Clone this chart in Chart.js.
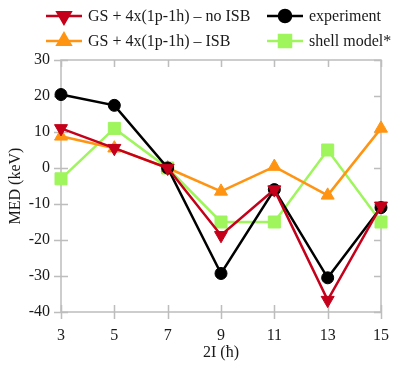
<!DOCTYPE html>
<html>
<head>
<meta charset="utf-8">
<script src="https://cdn.jsdelivr.net/npm/chart.js@4/dist/chart.umd.min.js"></script>
<style>
  html, body { margin: 0; padding: 0; background: #fff; }
  #wrap { width: 403px; height: 365px; }
</style>
</head>
<body>
<div id="wrap"><canvas id="myChart" width="403" height="365"></canvas></div>
<script>
// spins 2I
var spins = ['3', '5', '7', '9', '11', '13', '15'];

// MED values (keV)
var noIsb = [11, 5.5, 0, -18.7, -6, -36.7, -10.5];
var experiment = [20.4, 17.4, 0, -29.3, -6, -30.5, -11];
var withIsb = [8.8, 5.5, 0, -6.5, 0.4, -7.6, 11];
var shellModel = [-3, 11, 0, -15, -15, 5, -15];

var yTicks = [-40, -30, -20, -10, 0, 10, 20, 30];

var RED = '#c4001a', ORANGE = '#ff9412', GREEN = '#9ef55c', BLACK = '#000000';
var AXIS = '#bdbdbd';
var FONT = '"Liberation Serif", "DejaVu Serif", serif';

function makeSet(label, data, color, style, radius, rotation) {
    return {
        label: label,
        data: data,
        borderColor: color,
        backgroundColor: color,
        borderWidth: 2.5,
        pointStyle: style,
        pointRadius: radius,
        pointHoverRadius: radius,
        pointRotation: rotation,
        pointBorderWidth: 1,
        tension: 0,
        clip: false
    };
}

// frame + ticks crossing the axes
var frameTicks = {
    id: 'frameTicks',
    beforeDatasetsDraw: function (chart) {
        var c = chart.ctx, a = chart.chartArea;
        var x = chart.scales.x, y = chart.scales.y;
        c.save();
        c.strokeStyle = AXIS;
        c.lineWidth = 1.5;
        c.strokeRect(a.left, a.top, a.right - a.left, a.bottom - a.top);
        c.beginPath();
        yTicks.forEach(function (v) {
            var py = Math.round(y.getPixelForValue(v)) + 0.5;
            c.moveTo(a.left - 7, py); c.lineTo(a.left + 7, py);
            c.moveTo(a.right - 7, py); c.lineTo(a.right, py);
        });
        spins.forEach(function (s, i) {
            var px = Math.round(x.getPixelForValue(i)) + 0.5;
            c.moveTo(px, a.bottom - 7); c.lineTo(px, a.bottom + 7);
            c.moveTo(px, a.top); c.lineTo(px, a.top + 7);
        });
        c.stroke();
        c.restore();
    }
};

// two-column legend
var colLegend = {
    id: 'colLegend',
    afterDraw: function (chart) {
        var c = chart.ctx;
        var cols = [46, 267], rows = [16, 41];
        chart.data.datasets.forEach(function (ds, i) {
            var lx = cols[i % 2], ly = rows[Math.floor(i / 2)];
            c.save();
            c.strokeStyle = ds.borderColor;
            c.lineWidth = 2.5;
            c.beginPath();
            c.moveTo(lx, ly); c.lineTo(lx + 36, ly);
            c.stroke();
            c.fillStyle = ds.backgroundColor;
            Chart.helpers.drawPoint(c, {
                pointStyle: ds.pointStyle,
                radius: ds.pointRadius,
                rotation: ds.pointRotation,
                borderWidth: 1
            }, lx + 18, ly);
            c.fillStyle = '#1a1a1a';
            c.font = '16px ' + FONT;
            c.textBaseline = 'middle';
            c.fillText(ds.label, lx + 42, ly + 1);
            c.restore();
        });
    }
};

var ctx = document.getElementById('myChart').getContext('2d');
var chart = new Chart(ctx, {
    type: 'line',
    data: {
        labels: spins,
        datasets: [
            makeSet('GS + 4x(1p-1h) \u2013 no ISB', noIsb, RED, 'triangle', 7.5, 180),
            makeSet('experiment', experiment, BLACK, 'circle', 6, 0),
            makeSet('GS + 4x(1p-1h) \u2013 ISB', withIsb, ORANGE, 'triangle', 7.5, 0),
            makeSet('shell model*', shellModel, GREEN, 'rect', 8.5, 0)
        ]
    },
    options: {
        responsive: false,
        animation: false,
        layout: { padding: { top: 60, right: 10, left: 0, bottom: 0 } },
        plugins: {
            legend: { display: false },
            tooltip: { enabled: false }
        },
        scales: {
            x: {
                offset: false,
                grid: { display: false, drawTicks: false },
                border: { display: false },
                ticks: { color: '#1a1a1a', font: { family: FONT, size: 16 }, padding: 14, maxRotation: 0 },
                title: { display: true, text: '2I (\u0127)', color: '#1a1a1a', font: { family: FONT, size: 16 }, padding: { top: 0, bottom: 3 } },
                afterFit: function (s) { s.height = 53; }
            },
            y: {
                min: -40,
                max: 30,
                grid: { display: false, drawTicks: false },
                border: { display: false },
                ticks: { stepSize: 10, color: '#1a1a1a', font: { family: FONT, size: 16 }, padding: 11 },
                title: { display: true, text: 'MED (keV)', color: '#1a1a1a', font: { family: FONT, size: 16 }, padding: { top: 6, bottom: 0 } },
                afterFit: function (s) { s.width = 61; }
            }
        }
    },
    plugins: [frameTicks, colLegend]
});
</script>
</body>
</html>
